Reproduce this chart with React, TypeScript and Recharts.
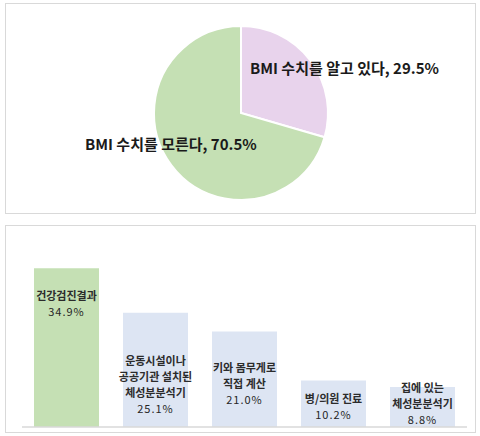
import { Bar, BarChart, Cell, LabelList, Pie, PieChart, XAxis, YAxis } from 'recharts'

// Pie: BMI awareness
const pieNames = ['BMI 수치를 알고 있다', 'BMI 수치를 모른다']
const pieValues = [29.5, 70.5]

// Bars: where people learned their BMI
const barCategories = [
  '건강검진결과',
  '운동시설이나\n공공기관 설치된\n체성분분석기',
  '키와 몸무게로\n직접 계산',
  '병/의원 진료',
  '집에 있는\n체성분분석기',
]
const barValues = [34.9, 25.1, 21.0, 10.2, 8.8]

const FONT = '"Noto Sans CJK KR", "Noto Sans", sans-serif'
const PIE_COLORS = ['#e8d3ec', '#c5e0b4']
const BAR_COLORS = ['#c5e0b4', '#dde5f3', '#dde5f3', '#dde5f3', '#dde5f3']
// where each pie label sits relative to the pie centre
const PIE_LABEL_SHIFT = [
  { dx: 9, dy: -46 },
  { dx: -156, dy: 30 },
]
// first label line offset below each bar top
const BAR_LABEL_SHIFT = [27, 47, 36, 17, 0]
const LINE_GAP = 16

const pieData = pieNames.map((name, i) => ({ name, value: pieValues[i] }))
const barData = barCategories.map((name, i) => ({ name, value: barValues[i] }))

function PieLabel(props: any) {
  const { cx, cy, index, name, value } = props
  const s = PIE_LABEL_SHIFT[index]
  return (
    <text
      x={cx + s.dx}
      y={cy + s.dy}
      dominantBaseline="central"
      textAnchor="start"
      fontFamily={FONT}
      fontSize={15}
      fontWeight={700}
      fill="#1a1a1a"
    >
      {`${name}, ${value.toFixed(1)}%`}
    </text>
  )
}

function BarLabel(props: any) {
  const { x, y, width, index, value } = props
  const lines = [...barCategories[index].split('\n'), `${Number(value).toFixed(1)}%`]
  const cx = x + width / 2
  const top = y + BAR_LABEL_SHIFT[index]
  return (
    <g>
      {lines.map((line, i) => {
        const isPct = i === lines.length - 1
        return (
          <text
            key={i}
            x={cx}
            y={top + i * LINE_GAP}
            textAnchor="middle"
            dominantBaseline="central"
            fontFamily={FONT}
            fontSize={11}
            fontWeight={isPct ? 400 : 700}
            letterSpacing={isPct ? 1 : 0}
            fill={isPct ? '#262626' : '#2b2b2b'}
          >
            {line}
          </text>
        )
      })}
    </g>
  )
}

const panel = (top: number, height: number) => ({
  position: 'absolute' as const,
  left: 5,
  top,
  width: 471,
  height,
  border: '1.5px solid #d9d9d9',
  boxSizing: 'border-box' as const,
})

export default function App() {
  return (
    <div
      style={{
        position: 'fixed',
        left: 0,
        top: 0,
        width: 480,
        height: 436,
        background: '#fff',
        fontFamily: FONT,
      }}
    >
      <div style={panel(3, 211)} />
      <div style={panel(225, 208)} />
      <div style={{ position: 'absolute', left: 0, top: 0 }}>
        <PieChart width={480} height={220}>
          <Pie
            data={pieData}
            dataKey="value"
            nameKey="name"
            cx={236}
            cy={108}
            outerRadius={87}
            startAngle={90}
            endAngle={-270}
            stroke="#ffffff"
            strokeWidth={2}
            label={PieLabel}
            labelLine={false}
            isAnimationActive={false}
          >
            {pieData.map((d, i) => (
              <Cell key={d.name} fill={PIE_COLORS[i]} />
            ))}
          </Pie>
        </PieChart>
      </div>
      <div style={{ position: 'absolute', left: 0, top: 220 }}>
        <BarChart
          width={480}
          height={216}
          data={barData}
          margin={{ top: 25, right: 13, left: 22, bottom: 8 }}
          barSize={65}
        >
          <XAxis
            dataKey="name"
            tick={false}
            tickLine={false}
            height={1}
            axisLine={{ stroke: '#d9d9d9', strokeWidth: 1.5 }}
          />
          <YAxis hide domain={[0, 40]} />
          <Bar dataKey="value" isAnimationActive={false}>
            {barData.map((d, i) => (
              <Cell key={d.name} fill={BAR_COLORS[i]} />
            ))}
            <LabelList dataKey="value" content={BarLabel} />
          </Bar>
        </BarChart>
      </div>
    </div>
  )
}
